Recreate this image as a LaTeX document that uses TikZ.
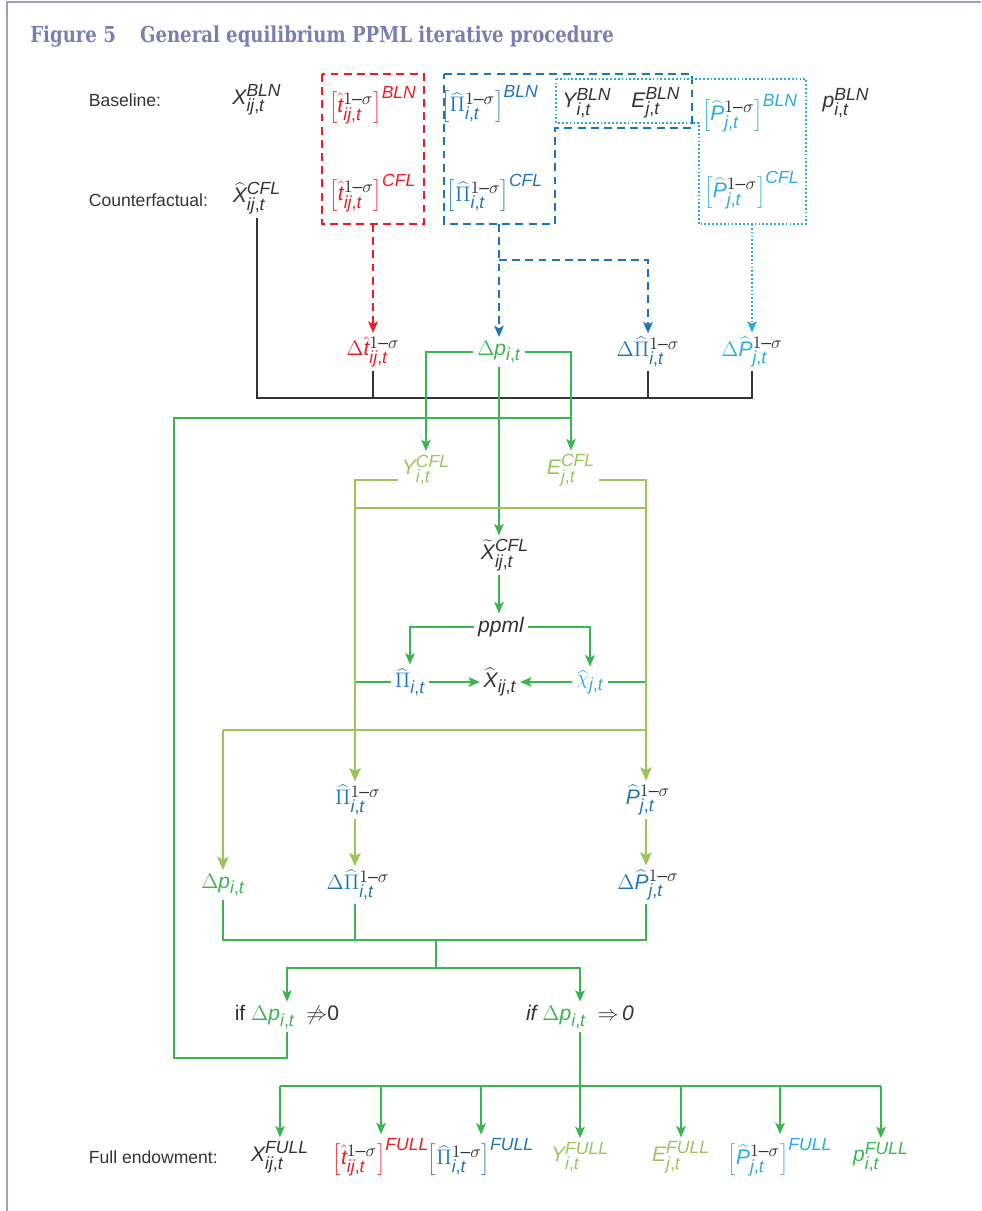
\documentclass[tikz,border=0pt]{standalone}
\usepackage{fontspec}
\setmainfont{Liberation Sans}
\newfontfamily\titlefont[FakeStretch=0.825]{DejaVu Serif}
\usepackage[italic]{mathastext}
\usetikzlibrary{arrows.meta}

\definecolor{figPurple}{HTML}{7D7DB3}
\definecolor{frameLine}{HTML}{9F9FCC}
\definecolor{tauRed}{HTML}{ED1C24}
\definecolor{piBlue}{HTML}{1C75BC}
\definecolor{pCyan}{HTML}{29ABE2}
\definecolor{flowGreen}{HTML}{3AB54F}
\definecolor{leafGreen}{HTML}{9DC35C}
\definecolor{inkGrey}{HTML}{333333}

\newcommand{\oms}{{\color{inkGrey}1-\sigma}}

\begin{document}
\begin{tikzpicture}
[x=0.02cm,y=-0.02cm,%
  font=\fontsize{10}{12}\selectfont,%
  txt/.style={text=inkGrey,inner sep=2pt},%
  mth/.style={txt,font=\fontsize{12}{14}\selectfont},%
  greenLine/.style={draw=flowGreen,line width=0.8pt},%
  greenArrow/.style={greenLine,-{Stealth[length=6.5pt,width=5.5pt,inset=1.5pt]}},%
  oliveLine/.style={draw=leafGreen,line width=1.1pt},%
  oliveArrow/.style={oliveLine,-{Stealth[length=7.5pt,width=6.5pt,inset=1.5pt]}},%
  blackLine/.style={draw=inkGrey,line width=0.8pt},%
  redDash/.style={draw=tauRed,line width=0.9pt,dash pattern=on 4.5pt off 3pt},%
  blueDash/.style={draw=piBlue,line width=0.8pt,dash pattern=on 4.5pt off 3pt},%
  cyanDot/.style={draw=pCyan,line width=0.8pt,dash pattern=on 1pt off 1.2pt},%
  dashArrow/.style={-{Stealth[length=6.5pt,width=5.5pt,inset=1.5pt]}}]
\useasboundingbox (0,0) rectangle (981,1211);
\draw[frameLine,line width=1pt] (981,2) -- (7,2) -- (7,1211);
\node[anchor=west,text=figPurple,inner sep=0pt,
  font=\titlefont\bfseries\fontsize{12.5}{14}\selectfont] (figTitle) at (30,37)
  {Figure 5\hspace{1.1em}General equilibrium PPML iterative procedure};

%% row labels
\foreach \nodename/\y/\content in {baseLbl/100/Baseline:, cflLbl/200/Counterfactual:, fullLbl/1157/Full endowment:}
{
  \node[txt,anchor=west] (\nodename) at (85,\y) {\content};
}

%% baseline and counterfactual values
\node[mth] (xBln) at (257,100) {$X^{BLN}_{ij,t}$};
\node[mth,text=tauRed] (tBln) at (373,105) {$\left[\hat{t}^{\oms}_{ij,t}\right]^{BLN}$};
\node[mth,text=tauRed] (tCfl) at (373,193) {$\left[\hat{t}^{\oms}_{ij,t}\right]^{CFL}$};
\node[mth,text=piBlue] (piBln) at (490,104) {$\left[\widehat{\Pi}^{\oms}_{i,t}\right]^{BLN}$};
\node[mth,text=piBlue] (piCfl) at (495,193) {$\left[\widehat{\Pi}^{\oms}_{i,t}\right]^{CFL}$};
\node[mth] (yBln) at (587,103) {$Y^{BLN}_{i,t}$};
\node[mth] (eBln) at (656,103) {$E^{BLN}_{j,t}$};
\node[mth,text=pCyan] (pBln) at (750,113) {$\left[\widehat{P}^{\oms}_{j,t}\right]^{BLN}$};
\node[mth,text=pCyan] (pCfl) at (752,190) {$\left[\widehat{P}^{\oms}_{j,t}\right]^{CFL}$};
\node[mth] (priceBln) at (846,103) {$p^{BLN}_{i,t}$};
\node[mth] (xCfl) at (257,198) {$\widehat{X}^{CFL}_{ij,t}$};

%% changes
\node[mth,text=tauRed] (dT) at (373,352) {$\Delta\hat{t}^{\oms}_{ij,t}$};
\node[mth,text=flowGreen] (dP) at (499,352) {$\Delta p_{i,t}$};
\node[mth,text=piBlue] (dPi) at (648,352) {$\Delta\widehat{\Pi}^{\oms}_{i,t}$};
\node[mth,text=pCyan] (dPP) at (752,352) {$\Delta\widehat{P}^{\oms}_{j,t}$};

%% ppml step
\node[mth,text=leafGreen] (yCfl) at (426,470) {$Y^{CFL}_{i,t}$};
\node[mth,text=leafGreen] (eCfl) at (571,470) {$E^{CFL}_{j,t}$};
\node[mth] (xTil) at (505,555) {$\widetilde{X}^{CFL}_{ij,t}$};
\node[mth] (ppml) at (501,627) {\itshape ppml};
\node[mth,text=piBlue] (piHat) at (410,682) {$\widehat{\Pi}_{i,t}$};
\node[mth] (xHat) at (500,682) {$\widehat{X}_{ij,t}$};
\node[mth,text=pCyan] (chiHat) at (590,682) {$\widehat{\chi}_{j,t}$};

%% updated terms
\node[mth,text=flowGreen] (dP2) at (223,885) {$\Delta p_{i,t}$};
\node[mth,text=piBlue] (piOne) at (358,800) {$\widehat{\Pi}^{\oms}_{i,t}$};
\node[mth,text=piBlue] (pOne) at (648,800) {$\widehat{P}^{\oms}_{j,t}$};
\node[mth,text=piBlue] (dPi2) at (358,885) {$\Delta\widehat{\Pi}^{\oms}_{i,t}$};
\node[mth,text=piBlue] (dPP2) at (648,885) {$\Delta\widehat{P}^{\oms}_{j,t}$};
\node[mth] (ifNo) at (287,1017) {if {\color{flowGreen}$\Delta p_{i,t}$}\; $\not\Rightarrow$0};
\node[mth] (ifYes) at (580,1017) {\itshape if {\color{flowGreen}$\Delta p_{i,t}$}\; $\Rightarrow$\,0};

%% full endowment
\foreach \nodename/\x/\colour/\content in {
  xFull/280/inkGrey/{$X^{FULL}_{ij,t}$},
  tFull/381/tauRed/{$\left[\hat{t}^{\oms}_{ij,t}\right]^{FULL}$},
  piFull/481/piBlue/{$\left[\widehat{\Pi}^{\oms}_{i,t}\right]^{FULL}$},
  yFull/580/leafGreen/{$Y^{FULL}_{i,t}$},
  eFull/681/leafGreen/{$E^{FULL}_{j,t}$},
  pFull/780/pCyan/{$\left[\widehat{P}^{\oms}_{j,t}\right]^{FULL}$},
  priceFull/881/flowGreen/{$p^{FULL}_{i,t}$}}
{
  \node[mth,text=\colour] (\nodename) at (\x,1157) {\content};
}

%% helper coordinates
\coordinate (redFoot) at (373,224);
\coordinate (blueFoot) at (499,224);
\coordinate (blueFork) at (499,260);
\coordinate (cyanFoot) at (752,224);
\coordinate (blackBar) at (0,398);
\coordinate (loopLow) at (174,1058);
\coordinate (loopTop) at (174,418);
\coordinate (yeLevel) at (0,480);
\coordinate (crossY) at (0,508);
\coordinate (leftCol) at (355,0);
\coordinate (rightCol) at (646,0);
\coordinate (distY) at (0,730);
\coordinate (sumY) at (0,940);
\coordinate (sumMid) at (436,940);
\coordinate (splitY) at (0,968);
\coordinate (busY) at (0,1086);

%% source boxes
\draw[redDash] (322,74) rectangle (424,224);
\draw[blueDash] (444,74) -- (692,74) -- (692,128) -- (555,128) -- (555,224) -- (444,224) -- cycle;
\draw[cyanDot] (556,79) -- (806,79) -- (806,224) -- (699,224) -- (699,123) -- (556,123) -- cycle;
\draw[redDash,dashArrow] (redFoot) -- (dT.north);
\draw[blueDash,dashArrow] (blueFoot) -- (dP.north);
\draw[blueDash,dashArrow] (blueFork) -| (dPi.north);
\draw[cyanDot,dashArrow] (cyanFoot) -- (dPP.north);

%% black collector
\draw[blackLine] (xCfl.south) -- (xCfl.south |- blackBar) -- (dPP.south |- blackBar) -- (dPP.south);
\foreach \nodename in {dT,dPi}
{
  \draw[blackLine] (\nodename.south) -- (\nodename.south |- blackBar);
}

%% green flow
\draw[greenArrow] (dP.west) -| (yCfl.north);
\draw[greenArrow] (dP.east) -| (eCfl.north);
\draw[greenArrow] (dP.south) -- (dP.south |- xTil.north);
\draw[greenLine] (ifNo.south) -- (ifNo.south |- loopLow) -- (loopLow) -- (loopTop) -- (eCfl.north |- loopTop);
\draw[greenArrow] (xTil.south -| dP) -- (ppml.north -| dP);
\draw[greenArrow] (ppml.west) -| (piHat.north);
\draw[greenArrow] (ppml.east) -| (chiHat.north);
\draw[greenArrow] (piHat.east) -- (xHat.west);
\draw[greenArrow] (chiHat.west) -- (xHat.east);
\draw[greenLine] (piHat.west) -- (piHat.west -| leftCol);
\draw[greenLine] (chiHat.east) -- (chiHat.east -| rightCol);

%% olive flow
\draw[oliveArrow] (yCfl.west |- yeLevel) -- (leftCol |- yeLevel) -- (leftCol |- piOne.north);
\draw[oliveArrow] (eCfl.east |- yeLevel) -- (rightCol |- yeLevel) -- (rightCol |- pOne.north);
\draw[oliveLine] (leftCol |- crossY) -- (rightCol |- crossY);
\draw[oliveLine] (dP2.north |- distY) -- (rightCol |- distY);
\draw[oliveArrow] (dP2.north |- distY) -- (dP2.north);
\draw[oliveArrow] (leftCol |- piOne.south) -- (leftCol |- dPi2.north);
\draw[oliveArrow] (rightCol |- pOne.south) -- (rightCol |- dPP2.north);

%% convergence check
\draw[greenLine] (dP2.south) -- (dP2.south |- sumY) -- (rightCol |- sumY) -- (rightCol |- dPP2.south);
\draw[greenLine] (leftCol |- dPi2.south) -- (leftCol |- sumY);
\draw[greenLine] (sumMid) -- (sumMid |- splitY);
\draw[greenArrow] (sumMid |- splitY) -| (ifNo.north);
\draw[greenArrow] (sumMid |- splitY) -| (ifYes.north);
\draw[greenLine] (ifYes.south) -- (ifYes.south |- busY);
\draw[greenLine] (xFull.north |- busY) -- (priceFull.north |- busY);
\foreach \nodename in {xFull,tFull,piFull,yFull,eFull,pFull,priceFull}
{
  \draw[greenArrow] (\nodename.north |- busY) -- (\nodename.north);
}
\end{tikzpicture}
\end{document}
